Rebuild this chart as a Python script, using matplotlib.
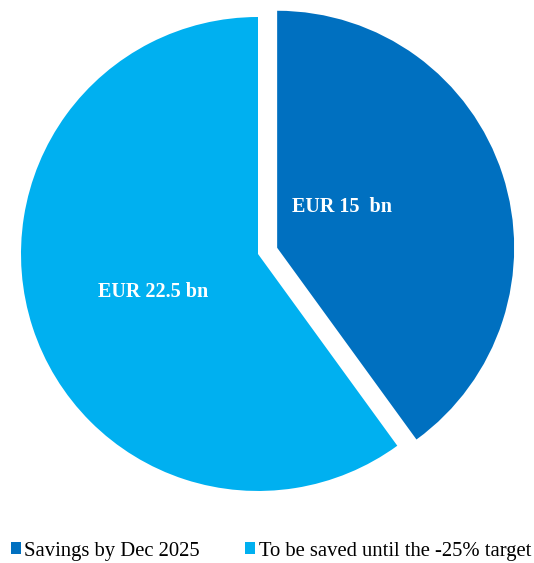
import matplotlib.pyplot as plt
from matplotlib.patches import Patch

labels = ["Savings by Dec 2025", "To be saved until the -25% target"]
values = [15, 22.5]
value_text = ["EUR 15  bn", "EUR 22.5 bn"]
colors = ["#0070C0", "#00B0F0"]

plt.rcParams["font.family"] = ["Liberation Serif", "DejaVu Serif"]

fig = plt.figure(figsize=(5.34, 5.63), dpi=100)
ax = fig.add_axes([0, 0.0764, 1, 0.9236])

wedges, _ = ax.pie(values, colors=colors, startangle=90, counterclock=False,
                   explode=[0.085, 0], radius=1)

# label positions
ax.text(0.356, 0.200, value_text[0], color="white", fontsize=14.5,
        fontweight="bold", ha="center", va="center")
ax.text(-0.443, -0.160, value_text[1], color="white", fontsize=14.5,
        fontweight="bold", ha="center", va="center")

ax.set_xlim(-1.0886, 1.1646)
ax.set_ylim(-1.1224, 1.0717)
ax.set_aspect("auto")
ax.axis("off")

handles = [Patch(facecolor=c, edgecolor="none") for c in colors]
fig.legend(handles, labels, loc="center", bbox_to_anchor=(0.507, 0.021), ncol=2,
           frameon=False, fontsize=14.9, handlelength=0.5, handleheight=0.5,
           handletextpad=0.15, columnspacing=2.2, borderpad=0, borderaxespad=0)

fig.savefig("out.png", dpi=100)
